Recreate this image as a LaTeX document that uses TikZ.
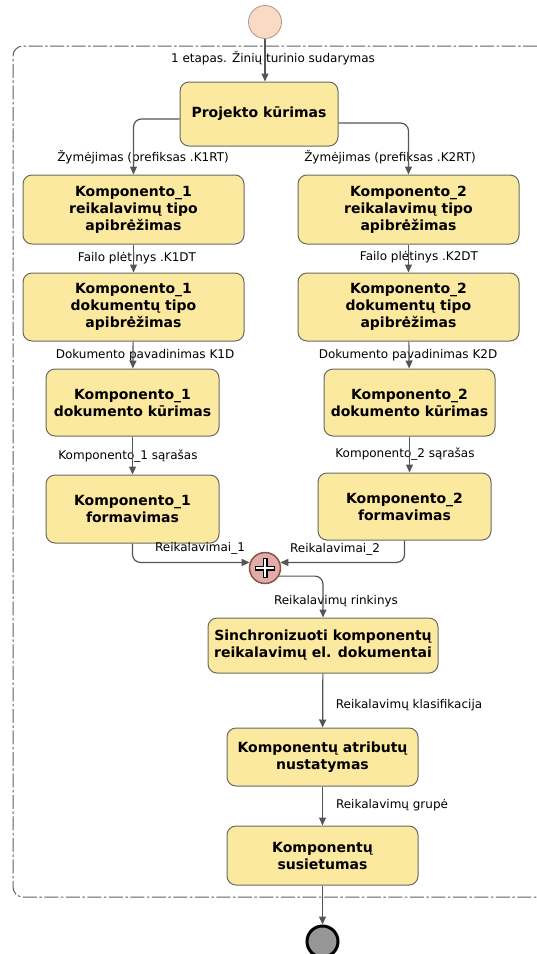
\documentclass[tikz,border=0pt]{standalone}
\usepackage{fontspec}
\setmainfont{DejaVu Sans}
\usetikzlibrary{arrows.meta,positioning}

\definecolor{taskfill}{RGB}{252,233,160}
\definecolor{taskline}{RGB}{105,105,100}
\definecolor{flowline}{RGB}{85,85,85}
\definecolor{framecol}{RGB}{95,95,95}
\definecolor{startfill}{RGB}{250,218,196}
\definecolor{startline}{RGB}{175,150,135}
\definecolor{gwfill}{RGB}{226,172,166}
\definecolor{gwline}{RGB}{140,80,75}
\definecolor{endfill}{RGB}{150,150,150}

\begin{document}
\begin{tikzpicture}[x=1pt, y=-1pt,
    task/.style 2 args={draw=taskline, fill=taskfill, rounded corners=9pt,
      line width=1pt, align=center, inner sep=0pt,
      minimum width=#1pt, minimum height=#2pt,
      font=\fontsize{14}{17}\selectfont\bfseries},
    flow/.style={draw=flowline, line width=1.2pt, rounded corners=8pt,
      -{Triangle[length=8pt, width=7pt]}},
    flowlabel/.style={inner sep=0pt, font=\fontsize{12}{14}\selectfont},
    frame/.style={draw=framecol, line width=1pt, rounded corners=10pt,
      dash pattern=on 14pt off 2.5pt on 2.5pt off 2.5pt}]
  \useasboundingbox (0,0) rectangle (537,954);

  % stage frame
  \draw[frame] (537,46) -- (13,46) -- (13,897) -- (537,897);
  \node[flowlabel] (lstage) at (273,58) {1 etapas. Žinių turinio sudarymas};

  % events and gateway
  \node[circle, draw=startline, fill=startfill, line width=0.8pt,
    minimum size=33pt, inner sep=0pt] (start) at (265,22) {};
  \node[circle, draw=gwline, fill=gwfill, line width=1.5pt,
    minimum size=31pt, inner sep=0pt] (gw) at (265,568) {};

  % tasks
  \node[task={158}{64}] (proj) at (259,114) {Projekto kūrimas};
  \node[task={221}{69}] (k1a) at (133.5,209.5) {Komponento\_1\\reikalavimų tipo\\apibrėžimas};
  \node[task={221}{68}] (k1b) at (133.5,307) {Komponento\_1\\dokumentų tipo\\apibrėžimas};
  \node[task={173}{67}] (k1c) at (132.5,402.5) {Komponento\_1\\dokumento kūrimas};
  \node[task={173}{68}] (k1d) at (132.5,509) {Komponento\_1\\formavimas};
  \node[task={221}{69}] (k2a) at (408.5,209.5) {Komponento\_2\\reikalavimų tipo\\apibrėžimas};
  \node[task={221}{68}] (k2b) at (408.5,307) {Komponento\_2\\dokumentų tipo\\apibrėžimas};
  \node[task={171}{67}] (k2c) at (409.5,402.5) {Komponento\_2\\dokumento kūrimas};
  \node[task={173}{67}] (k2d) at (404.5,506.5) {Komponento\_2\\formavimas};
  \node[task={230}{55}] (sync) at (323,645.5) {Sinchronizuoti komponentų\\reikalavimų el. dokumentai};
  \node[task={191}{58}] (attr) at (322.5,757) {Komponentų atributų\\nustatymas};
  \node[task={191}{59}] (link) at (322.5,855.5) {Komponentų\\susietumas};
  \node[circle, draw=black, fill=endfill, line width=3pt,
    minimum size=31pt, inner sep=0pt, below=39pt of link] (end) {};

  % flow labels
  \node[flowlabel] (lk1rt) at (143,157) {Žymėjimas (prefiksas .K1RT)};
  \node[flowlabel] (lk2rt) at (390,157) {Žymėjimas (prefiksas .K2RT)};
  \node[flowlabel] (lk1dt) at (137,258) {Failo plėtinys .K1DT};
  \node[flowlabel] (lk2dt) at (419,257) {Failo plėtinys .K2DT};
  \node[flowlabel] (lk1d) at (145,355) {Dokumento pavadinimas K1D};
  \node[flowlabel] (lk2d) at (408,355) {Dokumento pavadinimas K2D};
  \node[flowlabel] (lk1s) at (128,456) {Komponento\_1 sąrašas};
  \node[flowlabel] (lk2s) at (405,454) {Komponento\_2 sąrašas};
  \node[flowlabel] (lr1) at (200,548) {Reikalavimai\_1};
  \node[flowlabel] (lr2) at (335,549) {Reikalavimai\_2};
  \node[flowlabel] (lset) at (336,601) {Reikalavimų rinkinys};
  \node[flowlabel] (lclass) at (409,705) {Reikalavimų klasifikacija};
  \node[flowlabel] (lgroup) at (392,805) {Reikalavimų grupė};

  % sequence flows
  \draw[flow] (start) -- (start |- proj.north);
  \draw[flow] ([yshift=-5pt]proj.west) -| (k1a.north);
  \draw[flow] ([yshift=-9pt]proj.east) -| (k2a.north);
  \draw[flow] (k1a) -- (k1b);
  \draw[flow] (k1b) -- (k1c);
  \draw[flow] (k1c) -- (k1d);
  \draw[flow] (k2a) -- (k2b);
  \draw[flow] (k2b) -- (k2c);
  \draw[flow] (k2c.south) -- (k2c.south |- k2d.north);
  \draw[flow] (k1d.south) |- (gw.160);
  \draw[flow] (k2d.south) |- (gw.20);
  \draw[flow] (gw.-30) -| (sync.north);
  \draw[flow] (sync) -- (attr);
  \draw[flow] (attr) -- (link);
  \draw[flow] (link) -- (end);

  % parallel gateway marker
  \foreach \ang in {0,90}
    \draw[line width=5pt] ([shift={(\ang:10pt)}]gw.center) -- ([shift={(\ang+180:10pt)}]gw.center);
  \foreach \ang in {0,90}
    \draw[white, line width=2.4pt] ([shift={(\ang:8.8pt)}]gw.center) -- ([shift={(\ang+180:8.8pt)}]gw.center);
\end{tikzpicture}
\end{document}
